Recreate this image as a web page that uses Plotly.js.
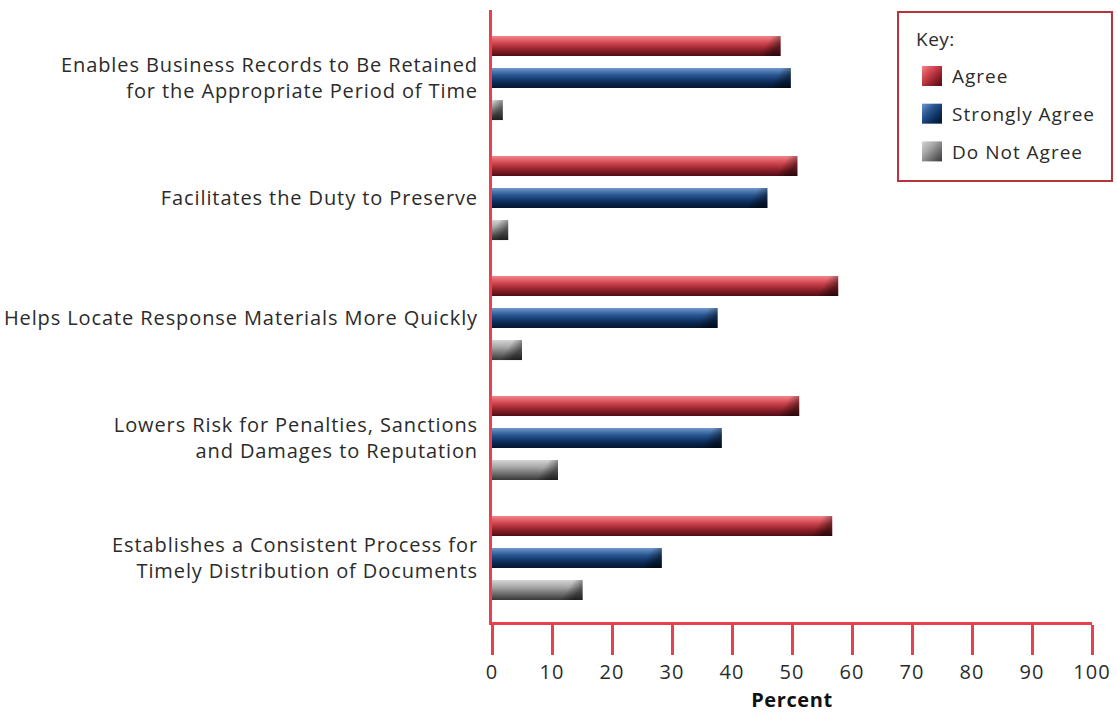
<!DOCTYPE html>
<html>
<head>
<meta charset="utf-8">
<script src="https://cdn.plot.ly/plotly-3.0.1.min.js"></script>
<style>
html,body{margin:0;padding:0;background:#fff;}
#chart{width:1117px;height:713px;}
#chart .ytick text{letter-spacing:0.9px;}
#chart .xtick text{letter-spacing:1px;}
#chart .legendtext{letter-spacing:1px;}
#chart .annotation-text{letter-spacing:0.5px;}
#chart .g-xtitle text{letter-spacing:0.6px;}
</style>
</head>
<body>
<div id="chart"></div>
<script>
const categories = [
  "Enables Business Records to Be Retained<br>for the Appropriate Period of Time",
  "Facilitates the Duty to Preserve",
  "Helps Locate Response Materials More Quickly",
  "Lowers Risk for Penalties, Sanctions<br>and Damages to Reputation",
  "Establishes a Consistent Process for<br>Timely Distribution of Documents"
];
const agree = [48.1, 50.9, 57.7, 51.2, 56.7];
const stronglyAgree = [49.8, 45.9, 37.6, 38.3, 28.3];
const doNotAgree = [1.8, 2.7, 5.0, 11.0, 15.1];
const seriesNames = ["Agree", "Strongly Agree", "Do Not Agree"];
const xTicks = [0, 10, 20, 30, 40, 50, 60, 70, 80, 90, 100];
const keyTitle = "Key:";
const axisTitle = "Percent";

const baseColors = ["#c8404b", "#1e4a80", "#8a8a8a"];
const gradStops = [
  ["#f4858b", "#d04550", "#8c1f28", "#4e0d14"],
  ["#6f98cc", "#2a5792", "#0b2b58", "#021530"],
  ["#d4d4d4", "#a8a8a8", "#6a6a6a", "#383838"]
];
const RED = "#e8404c";
const TXT = "#2b2b2b";
const FONT = "Open Sans, Liberation Sans, sans-serif";

const seriesValues = [agree, stronglyAgree, doNotAgree];
const traces = seriesValues.map((vals, i) => ({
  type: "bar",
  orientation: "h",
  name: seriesNames[i],
  legendgroup: "g" + i,
  x: vals,
  y: categories,
  marker: {color: baseColors[i], line: {width: 0}},
  hoverinfo: "x+name"
}));

const layout = {
  width: 1117, height: 713,
  margin: {l: 492, r: 25, t: 10, b: 91},
  paper_bgcolor: "#fff", plot_bgcolor: "#fff",
  font: {family: FONT, size: 19, color: TXT},
  barmode: "group",
  bargap: 0.2,
  bargroupgap: 0.375,
  showlegend: true,
  legend: {
    x: 0.70, xanchor: "left", y: 0.923, yanchor: "top",
    borderwidth: 0, bgcolor: "rgba(0,0,0,0)",
    font: {family: FONT, size: 19, color: TXT},
    traceorder: "grouped", tracegroupgap: 10,
    itemclick: false, itemdoubleclick: false
  },
  shapes: [{
    type: "rect", xref: "paper", yref: "paper",
    x0: 0.6767, x1: 1.0333, y0: 0.7206, y1: 0.9967,
    line: {color: "#b8323c", width: 2}, fillcolor: "rgba(0,0,0,0)", layer: "above"
  }],
  annotations: [{
    text: keyTitle, xref: "paper", yref: "paper",
    x: 0.705, y: 0.952, xanchor: "left", yanchor: "middle",
    showarrow: false, font: {family: FONT, size: 19, color: TXT}
  }],
  xaxis: {
    range: [0, 100], tickvals: xTicks, ticktext: xTicks.map(String),
    showgrid: false, zeroline: false,
    showline: true, linecolor: RED, linewidth: 3,
    ticks: "outside", ticklen: 30, tickwidth: 2.5, tickcolor: RED,
    tickfont: {family: FONT, size: 20, color: TXT},
    title: {text: "<b>" + axisTitle + "</b>", standoff: 12, font: {family: FONT, size: 20, color: "#111"}},
    fixedrange: true
  },
  yaxis: {
    type: "category",
    range: [4.533, -0.567],
    showgrid: false, zeroline: false,
    showline: true, linecolor: RED, linewidth: 3,
    ticks: "", ticklabelstandoff: 7,
    tickfont: {family: FONT, size: 20, color: TXT},
    fixedrange: true
  }
};

Plotly.newPlot("chart", traces, layout, {displayModeBar: false}).then(gd => {
  const svg = gd.querySelector("svg.main-svg");
  let defs = svg.querySelector("defs");
  const NS = "http://www.w3.org/2000/svg";
  function makeGrad(id, stops, x2, y2) {
    const g = document.createElementNS(NS, "linearGradient");
    g.setAttribute("id", id);
    g.setAttribute("x1", "0"); g.setAttribute("y1", "0");
    g.setAttribute("x2", x2); g.setAttribute("y2", y2);
    [0, 0.35, 0.7, 1].forEach((o, k) => {
      const s = document.createElementNS(NS, "stop");
      s.setAttribute("offset", o);
      s.setAttribute("stop-color", stops[k]);
      g.appendChild(s);
    });
    defs.appendChild(g);
  }
  gradStops.forEach((stops, i) => {
    makeGrad("barGrad" + i, stops, "0", "1");
    makeGrad("legGrad" + i, stops, "1", "1");
  });
  let n = 0;
  gd.querySelectorAll(".barlayer .trace").forEach((t, i) => {
    t.querySelectorAll("path").forEach(p => {
      p.style.fill = "url(#barGrad" + i + ")";
      const bb = p.getBBox();
      if (bb.width <= 0) return;
      const right = bb.x + bb.width;
      const g = document.createElementNS(NS, "linearGradient");
      const id = "endShade" + (n++);
      g.setAttribute("id", id);
      g.setAttribute("gradientUnits", "userSpaceOnUse");
      g.setAttribute("x1", Math.max(bb.x, right - 9)); g.setAttribute("y1", bb.y);
      g.setAttribute("x2", right); g.setAttribute("y2", bb.y + bb.height * 0.3);
      [[0, 0], [1, 0.45]].forEach(([o, a]) => {
        const s = document.createElementNS(NS, "stop");
        s.setAttribute("offset", o);
        s.setAttribute("stop-color", "#000");
        s.setAttribute("stop-opacity", a);
        g.appendChild(s);
      });
      defs.appendChild(g);
      const c = p.cloneNode(false);
      c.style.fill = "url(#" + id + ")";
      c.style.pointerEvents = "none";
      p.parentNode.insertBefore(c, p.nextSibling);
    });
  });
  gd.querySelectorAll(".legend .traces").forEach((t, i) => {
    t.querySelectorAll(".legendpoints path").forEach(p => {
      p.setAttribute("d", "M-10,-10h20v20h-20Z");
      p.style.fill = "url(#legGrad" + i + ")";
      p.style.stroke = "none";
    });
  });
  gd.querySelectorAll(".legend .scrollbox").forEach(s => s.removeAttribute("clip-path"));
  gd.querySelectorAll(".legend [clip-path]").forEach(s => s.removeAttribute("clip-path"));
});
</script>
</body>
</html>
